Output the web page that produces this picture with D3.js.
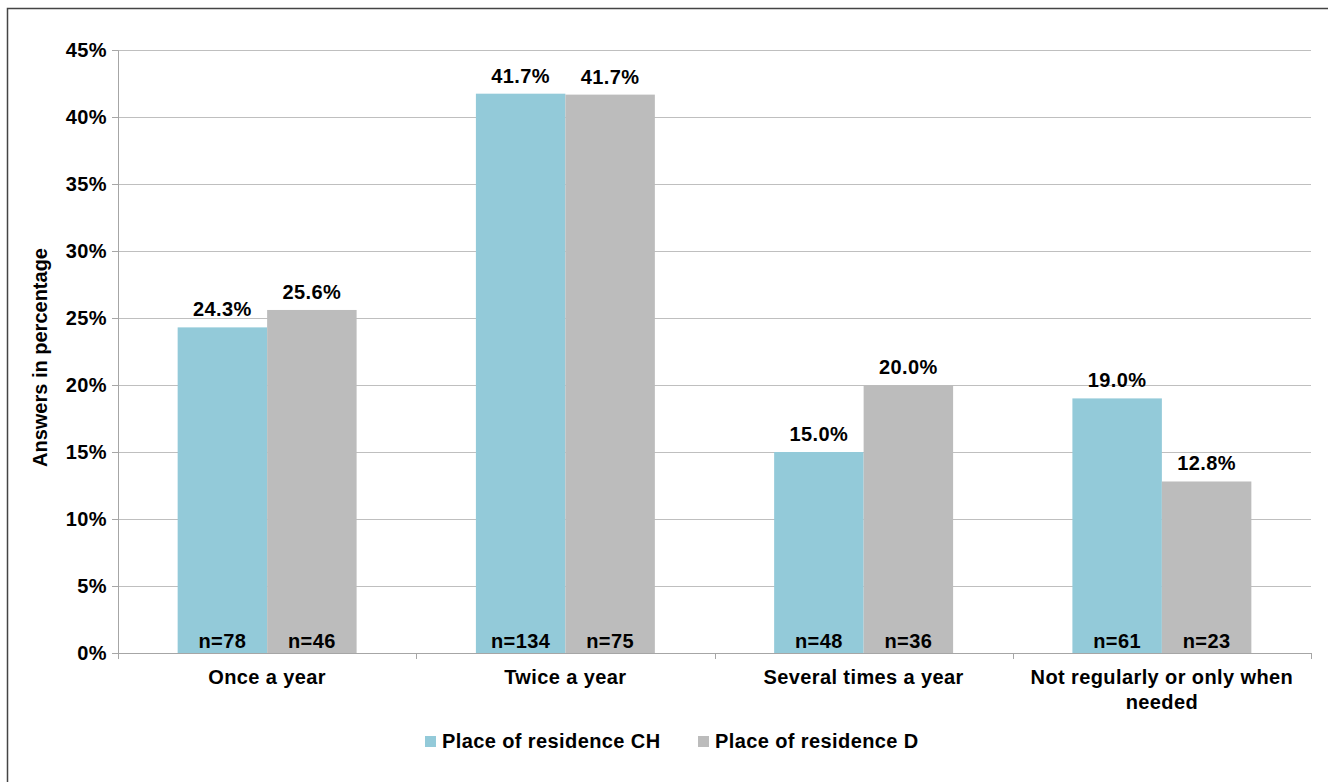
<!DOCTYPE html>
<html>
<head>
<meta charset="utf-8">
<script src="https://cdn.jsdelivr.net/npm/d3@7"></script>
<style>
  body { margin: 0; background: #fff; }
  #chart { width: 1328px; height: 782px; }
  text { font-family: "Liberation Sans", Arial, sans-serif; font-weight: bold; fill: #000; letter-spacing: 0.4px; }
</style>
</head>
<body>
<div id="chart"></div>
<script>
const categories = [['Once a year'], ['Twice a year'], ['Several times a year'], ['Not regularly or only when', 'needed']];
const seriesNames = ['Place of residence CH', 'Place of residence D'];
const valuesCH = [24.3, 41.74, 15.0, 19.0];
const valuesD = [25.6, 41.67, 20.0, 12.8];
const countsCH = [78, 134, 48, 61];
const countsD = [46, 75, 36, 23];
const yTicks = [0, 5, 10, 15, 20, 25, 30, 35, 40, 45];

const colors = ['#93cad9', '#bcbcbc'];
const fontSize = '20px';
const width = 1328, height = 782;
const margin = { left: 118, right: 17, top: 50, bottom: 129 };
const innerWidth = width - margin.left - margin.right;
const innerHeight = height - margin.top - margin.bottom;

const svg = d3.select('#chart').append('svg')
  .attr('width', width)
  .attr('height', height);

// outer frame (only left and top edges visible)
svg.append('rect')
  .attr('x', 7.5).attr('y', 8.5)
  .attr('width', width + 20).attr('height', height + 20)
  .attr('fill', 'none')
  .attr('stroke', '#444')
  .attr('stroke-width', 1.5);

const g = svg.append('g').attr('transform', `translate(${margin.left},${margin.top})`);

const idx = d3.range(categories.length);
const x0 = d3.scaleBand().domain(idx).range([0, innerWidth]).paddingInner(0).paddingOuter(0);
const x1 = d3.scaleBand().domain([0, 1]).range([x0.bandwidth() * 0.2, x0.bandwidth() * 0.8]);
const y = d3.scaleLinear().domain([0, 45]).range([innerHeight, 0]);

// gridlines
g.append('g').selectAll('line').data(yTicks.filter(d => d > 0)).join('line')
  .attr('x1', 0).attr('x2', innerWidth)
  .attr('y1', d => Math.round(y(d)) + 0.5).attr('y2', d => Math.round(y(d)) + 0.5)
  .attr('stroke', '#bfbfbf').attr('stroke-width', 1);

// y axis
const yAxis = d3.axisLeft(y).tickValues(yTicks).tickFormat(d => d + '%').tickSize(6).tickPadding(5);
const yg = g.append('g').call(yAxis);
yg.selectAll('text').attr('font-size', fontSize).style('font-family', '"Liberation Sans", Arial, sans-serif');
yg.selectAll('line,path').attr('stroke', '#a6a6a6');

const series = [
  { vals: valuesCH, n: countsCH },
  { vals: valuesD, n: countsD }
];

// bars
series.forEach((s, si) => {
  const sg = g.append('g');
  sg.selectAll('rect').data(idx).join('rect')
    .attr('x', i => x0(i) + x1(si))
    .attr('width', x1.bandwidth())
    .attr('y', i => y(s.vals[i]))
    .attr('height', i => innerHeight - y(s.vals[i]))
    .attr('fill', colors[si]);
  sg.selectAll('text.val').data(idx).join('text')
    .attr('class', 'val')
    .attr('x', i => x0(i) + x1(si) + x1.bandwidth() / 2)
    .attr('y', i => y(s.vals[i]) - 11)
    .attr('text-anchor', 'middle')
    .attr('font-size', fontSize)
    .text(i => s.vals[i].toFixed(1) + '%');
  sg.selectAll('text.n').data(idx).join('text')
    .attr('class', 'n')
    .attr('x', i => x0(i) + x1(si) + x1.bandwidth() / 2)
    .attr('y', innerHeight - 5)
    .attr('text-anchor', 'middle')
    .attr('font-size', fontSize)
    .text(i => 'n=' + s.n[i]);
});

// x axis
const xg = g.append('g').attr('transform', `translate(0,${innerHeight})`);
xg.append('line').attr('x1', 0).attr('x2', innerWidth).attr('y1', 0.5).attr('y2', 0.5).attr('stroke', '#a6a6a6');
xg.selectAll('line.tick').data(d3.range(categories.length + 1)).join('line')
  .attr('class', 'tick')
  .attr('x1', i => Math.round(i * x0.step()) + 0.5).attr('x2', i => Math.round(i * x0.step()) + 0.5)
  .attr('y1', 0).attr('y2', 6)
  .attr('stroke', '#a6a6a6');
const lab = xg.selectAll('text').data(idx).join('text')
  .attr('x', i => x0(i) + x0.bandwidth() / 2)
  .attr('y', 31)
  .attr('text-anchor', 'middle')
  .attr('font-size', fontSize);
lab.selectAll('tspan').data(i => categories[i]).join('tspan')
  .attr('x', function () { return d3.select(this.parentNode).attr('x'); })
  .attr('dy', (d, j) => j === 0 ? 0 : 25)
  .text(d => d);

// y axis title
svg.append('text')
  .attr('transform', `translate(47,${margin.top + innerHeight / 2 + 6}) rotate(-90)`)
  .attr('text-anchor', 'middle')
  .attr('font-size', fontSize)
  .style('letter-spacing', '0px')
  .text('Answers in percentage');

// legend
const legend = svg.append('g');
const legX = [425, 698];
seriesNames.forEach((name, i) => {
  legend.append('rect')
    .attr('x', legX[i]).attr('y', 736)
    .attr('width', 11).attr('height', 11)
    .attr('fill', colors[i]);
  legend.append('text')
    .attr('x', legX[i] + 17).attr('y', 748)
    .attr('font-size', fontSize)
    .text(name);
});
</script>
</body>
</html>
